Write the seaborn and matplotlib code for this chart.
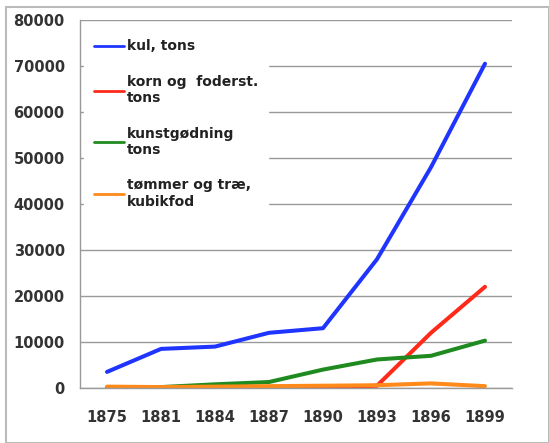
import numpy as np
import pandas as pd
import matplotlib
matplotlib.use("Agg")
import matplotlib.pyplot as plt
import seaborn as sns
from matplotlib.patches import Rectangle

# ==========================
# Data
# ==========================

years = ["1875", "1881", "1884", "1887", "1890", "1893", "1896", "1899"]
kul = [3500, 8500, 9000, 12000, 13000, 28000, 48000, 70500]
korn = [0, 0, 0, 0, 0, 500, 12000, 22000]
kunstgodning = [0, 200, 800, 1300, 4000, 6200, 7000, 10300]
tommer = [300, 200, 300, 400, 500, 600, 1000, 400]

series_names = ["kul, tons", "korn og  foderst.\ntons", "kunstgødning\ntons", "tømmer og træ,\nkubikfod"]
series_values = [kul, korn, kunstgodning, tommer]
colors = ["#1f35ff", "#ff2a1a", "#1f8a1f", "#ff8a1a"]

pos = np.arange(len(years))
df = pd.concat(
    [pd.DataFrame({"pos": pos, "value": v, "serie": n}) for n, v in zip(series_names, series_values)],
    ignore_index=True,
)

# ==========================
# Plot
# ==========================

sns.set_style("white")
fig = plt.figure(figsize=(5.49, 4.43), dpi=100)
ax = fig.add_axes([80 / 549, 1 - 388 / 443, 432 / 549, 368 / 443])

sns.lineplot(
    data=df, x="pos", y="value", hue="serie",
    palette=colors, linewidth=2.9, ax=ax, legend=True,
)

ax.set_xlim(-0.5, len(years) - 0.5)
ax.set_ylim(0, 80000)
ax.set_yticks(np.arange(0, 80001, 10000))
ax.set_xticks(pos)
ax.set_xticklabels(years)
ax.set_xticks(np.arange(-0.5, len(years), 1), minor=True)
ax.tick_params(axis="x", which="major", length=0, pad=16, labelsize=10.5, labelcolor="#333333")
ax.tick_params(axis="x", which="minor", length=5, color="#999999", direction="out")
ax.tick_params(axis="y", length=5, color="#999999", direction="out", pad=6, labelsize=10.5, labelcolor="#333333")
for lab in ax.get_xticklabels() + ax.get_yticklabels():
    lab.set_fontweight("bold")
ax.set_xlabel("")
ax.set_ylabel("")

ax.grid(axis="y", color="#999999", linewidth=1)
ax.set_axisbelow(True)
for s in ["top", "right"]:
    ax.spines[s].set_visible(False)
for s in ["left", "bottom"]:
    ax.spines[s].set_color("#999999")
    ax.spines[s].set_linewidth(1)

leg = ax.legend(
    loc="upper left", bbox_to_anchor=(0.0, 0.985), frameon=True,
    fontsize=10, labelspacing=1.55, handlelength=2.2, handletextpad=0.15,
    borderpad=0.7, borderaxespad=0.3,
)
leg.get_frame().set_facecolor("white")
leg.get_frame().set_edgecolor("white")
leg.get_frame().set_alpha(1)
for t in leg.get_texts():
    t.set_color("#222222")
    t.set_fontweight("bold")
for h in leg.get_lines():
    h.set_linewidth(2)

fig.patches.append(Rectangle((6 / 549, 0), 1 - 6 / 549, 1 - 7 / 443,
                             transform=fig.transFigure, fill=False,
                             edgecolor="#bbbbbb", linewidth=1.5))

plt.savefig("out.png", dpi=100)
